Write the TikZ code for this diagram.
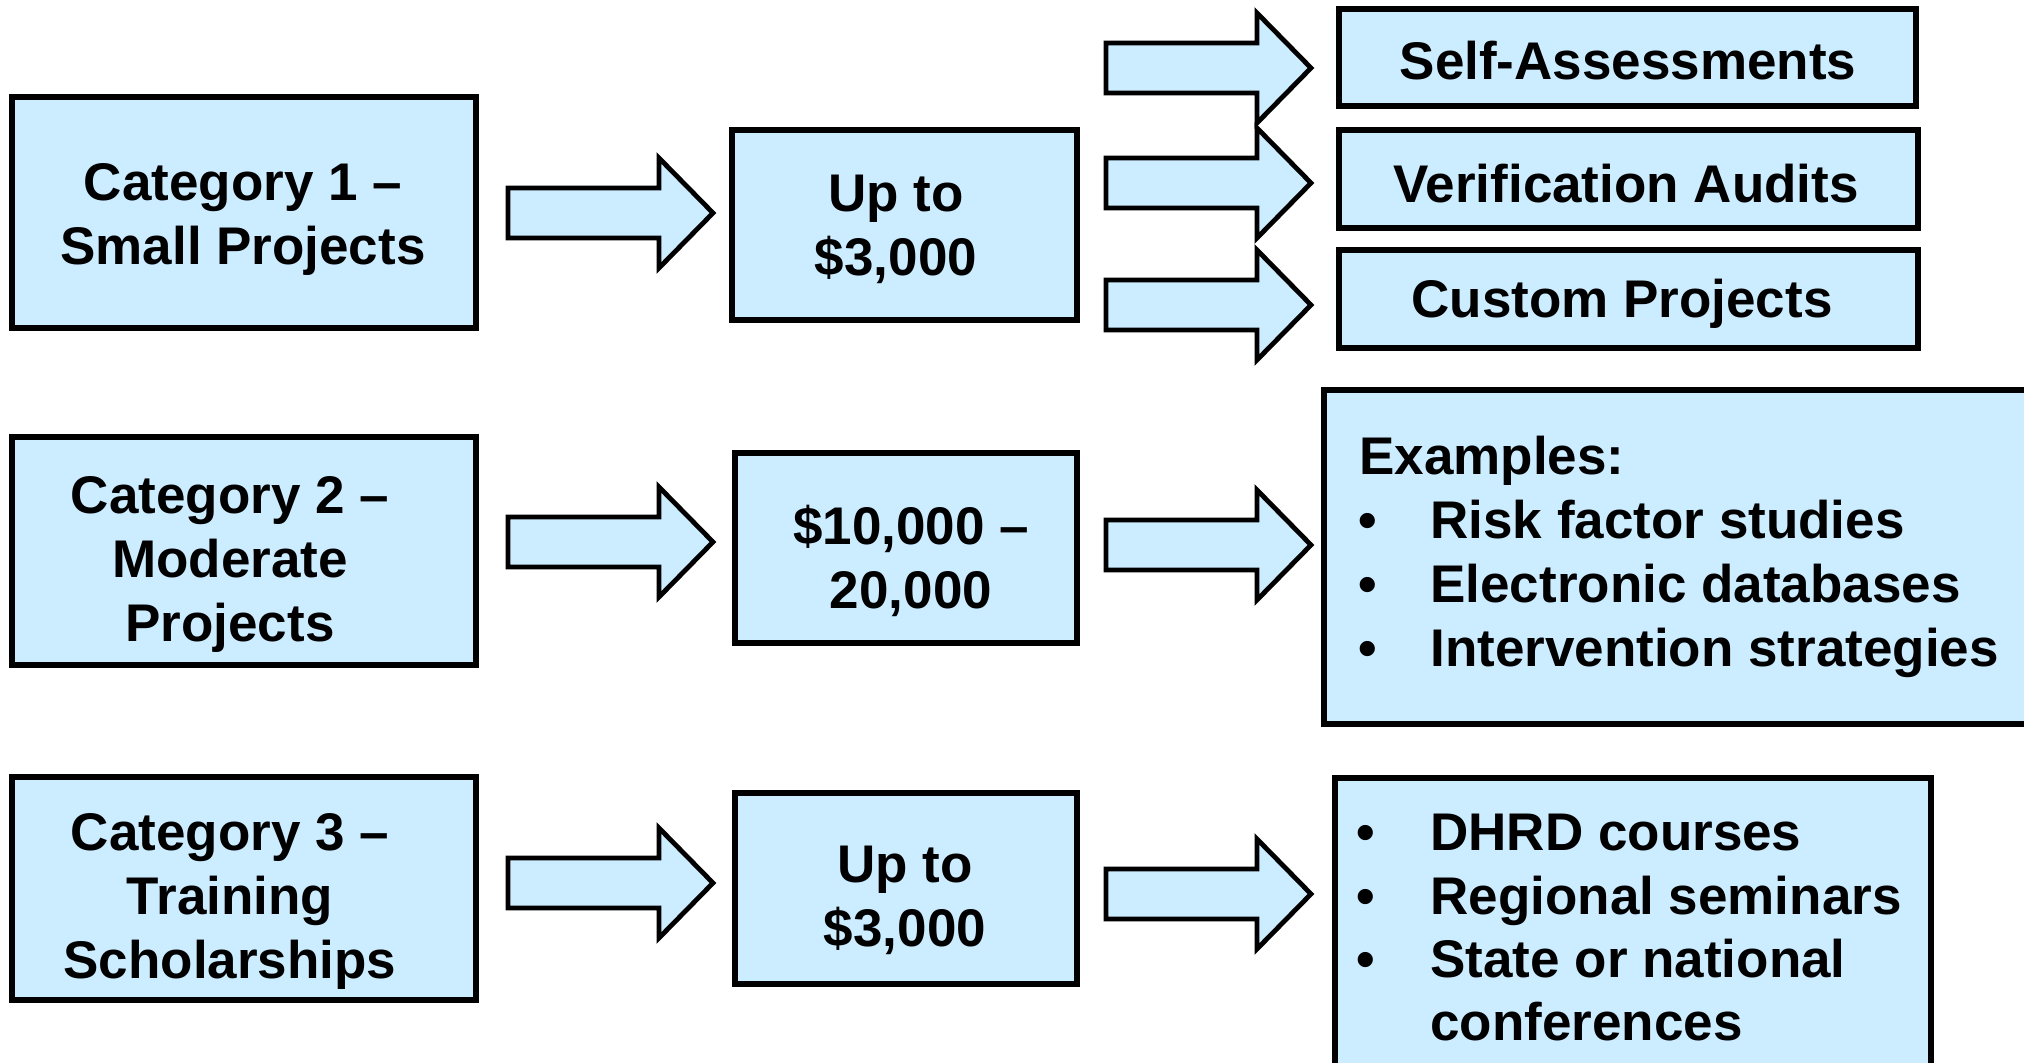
\documentclass[tikz,border=0pt]{standalone}
\usepackage{fontspec}
\setmainfont{Liberation Sans}
\definecolor{boxfill}{HTML}{CCECFF}
\newcommand\blockarr[3]{%
  \draw[arrowshape] (#1,#2-25) coordinate (#3) -- (#1+151,#2-25) -- (#1+151,#2-55) -- (#1+205,#2) -- (#1+151,#2+55) -- (#1+151,#2+25) -- (#1,#2+25) -- cycle;}
\begin{document}
\begin{tikzpicture}[x=0.5pt,y=-0.5pt,
  box/.style={draw=black,line width=2.8pt,fill=boxfill},
  arrowshape/.style={draw=black,line width=2.4pt,fill=boxfill,line join=miter},
  txt/.style={font=\bfseries\fontsize{26.5}{32}\selectfont,inner sep=0pt,anchor=base},
  ctxt/.style={txt,align=center},
  ltxt/.style={txt,align=left,anchor=base west}]
\useasboundingbox (0,0) rectangle (2024,1063);
\fill[white] (0,0) rectangle (2024,1063);
% left category boxes
\path[box] (12,97) rectangle (476,328) coordinate (c1);
\path[box] (12,437) rectangle (476,665) coordinate (c2);
\path[box] (12,777) rectangle (476,1000) coordinate (c3);
% (base anchor of a multi-line node = baseline of its last line)
\node[ctxt] (t1) at (243,265) {Category 1 --\\Small Projects};
\node[ctxt] (t2) at (230,641) {Category 2 --\\Moderate\\Projects};
\node[ctxt] (t3) at (230,978) {Category 3 --\\Training\\Scholarships};
% middle boxes
\path[box] (732,130) rectangle (1077,320) coordinate (m1);
\path[box] (735,453) rectangle (1077,643) coordinate (m2);
\path[box] (735,793) rectangle (1077,984) coordinate (m3);
\node[ctxt] (u1) at (896,276) {Up to\\\$3,000};
\node[ctxt] (u2) at (911,609) {\$10,000 --\\20,000};
\node[ctxt] (u3) at (905,946) {Up to\\\$3,000};
% right boxes
\path[box] (1339,9) rectangle (1916,106) coordinate (r1);
\path[box] (1339,130) rectangle (1918,228) coordinate (r2);
\path[box] (1339,250) rectangle (1918,348) coordinate (r3);
\path[box] (1324,390) rectangle (2040,724) coordinate (r4);
\path[box] (1335,778) rectangle (1931,1080) coordinate (r5);
\node[ctxt] (s1) at (1628,80) {Self-Assessments};
\node[ctxt] (s2) at (1626,203) {Verification Audits};
\node[ctxt] (s3) at (1622,318) {Custom Projects};
\node[ltxt] (e0) at (1359,475) {Examples:};
\foreach \yy/\tt [count=\i] in {539/Risk factor studies,603/Electronic databases,667/Intervention strategies}{
  \node[txt] (eb\i) at (1368,\yy) {•};
  \node[ltxt] (et\i) at (1430,\yy) {\tt};
}
\foreach \yy/\tt [count=\i] in {850/DHRD courses,914/Regional seminars,977/State or national}{
  \node[txt] (db\i) at (1366,\yy) {•};
  \node[ltxt] (dt\i) at (1430,\yy) {\tt};
}
\node[ltxt] (dt4) at (1430,1040) {conferences};
% block arrows
\blockarr{508}{213}{a1}
\blockarr{508}{542}{a2}
\blockarr{508}{883}{a3}
\blockarr{1106}{68}{b1}
\blockarr{1106}{183}{b2}
\blockarr{1106}{305}{b3}
\blockarr{1106}{545}{b4}
\blockarr{1106}{894}{b5}
\end{tikzpicture}
\end{document}
